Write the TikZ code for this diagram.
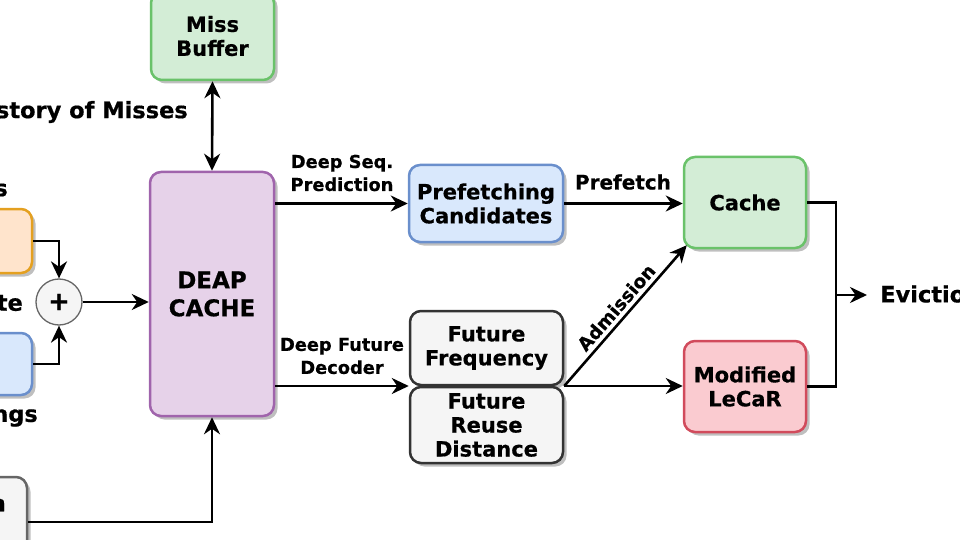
\documentclass[tikz,border=0pt]{standalone}
\usepackage{fontspec}
\setmainfont{DejaVu Sans}[BoldFeatures={FakeBold=0.6}]
\usetikzlibrary{arrows.meta,shadows,calc}
\definecolor{gfill}{HTML}{D3EDD6}\definecolor{gline}{HTML}{6AC26A}
\definecolor{pfill}{HTML}{E6D2E9}\definecolor{pline}{HTML}{A064AC}
\definecolor{bfill}{HTML}{D9E8FC}\definecolor{bline}{HTML}{6A8FCC}
\definecolor{rfill}{HTML}{FACBD0}\definecolor{rline}{HTML}{D14B5C}
\definecolor{ofill}{HTML}{FFE4CC}\definecolor{oline}{HTML}{E4A020}
\definecolor{kfill}{HTML}{F5F5F5}\definecolor{kline}{HTML}{666666}
\definecolor{dline}{HTML}{333333}
\begin{document}
\begin{tikzpicture}[x=1pt,y=-1pt,
  box/.style={draw, line width=2.5pt, rounded corners=11pt, align=center,
    font=\fontsize{21}{24}\selectfont\bfseries, inner sep=0pt,
    drop shadow={shadow xshift=3.5pt, shadow yshift=-3.5pt, fill=black!50, opacity=0.5}},
  greenbox/.style={box, fill=gfill, draw=gline},
  purplebox/.style={box, fill=pfill, draw=pline},
  bluebox/.style={box, fill=bfill, draw=bline},
  redbox/.style={box, fill=rfill, draw=rline},
  orangebox/.style={box, fill=ofill, draw=oline},
  greybox/.style={box, fill=kfill, draw=kline},
  darkbox/.style={box, fill=kfill, draw=dline},
  lbl/.style={align=center, inner sep=0pt, font=\fontsize{17.8}{23}\selectfont\bfseries},
  big/.style={inner sep=0pt, font=\fontsize{22.5}{26}\selectfont\bfseries},
  arr/.style={line width=2.6pt, -{Stealth[length=17pt,width=16pt,inset=5.5pt]}},
  dbl/.style={line width=2.6pt, {Stealth[length=17pt,width=16pt,inset=5.5pt]}-{Stealth[length=17pt,width=16pt,inset=5.5pt]}},
  ln/.style={line width=2.6pt}]
\useasboundingbox (0,0) rectangle (960,540);
\clip (0,0) rectangle (960,540);

% boxes
\node[greenbox, minimum width=123pt, minimum height=88pt] (mb) at (212.5,36) {Miss\\Buffer};
\node[purplebox, minimum width=124pt, minimum height=244pt, font=\fontsize{23}{28}\selectfont\bfseries] (deap) at (212,294) {DEAP\\CACHE};
\node[orangebox, minimum width=52pt, minimum height=64pt] (ob) at (6,241) {};
\node[bluebox, minimum width=52pt, minimum height=62pt] (lb) at (6,364) {};
\node[greybox, minimum width=47pt, minimum height=83pt] (gb) at (3.5,518.5) {};
\node[circle, draw=kline, fill=kfill, line width=1.3pt, minimum size=46pt, inner sep=0pt,
  font=\fontsize{26}{26}\selectfont\bfseries] (plus) at (59,302) {+};
\node[bluebox, minimum width=154pt, minimum height=77pt] (pref) at (486,203.5) {Prefetching\\Candidates};
\node[greenbox, minimum width=122pt, minimum height=91pt] (cache) at (745,202.5) {Cache};
\node[darkbox, minimum width=153pt, minimum height=74pt] (ff) at (486.5,348) {Future\\Frequency};
\node[darkbox, minimum width=153pt, minimum height=76pt] (fr) at (486.5,425) {Future\\Reuse\\Distance};
\node[redbox, minimum width=122pt, minimum height=91pt] (lecar) at (745,386.5) {Modified\\LeCaR};

% cut-off texts
\node[big, anchor=east] (hist) at (188,112) {story of Misses};
\node[big, anchor=east] (t1) at (8,190) {s};
\node[big, anchor=east] (t2) at (23,303) {te};
\node[big, anchor=east] (t3) at (38,418) {ngs};
\node[big, anchor=east] (t4) at (6,505) {n};
\node[big, anchor=west] (evt) at (880,294) {Evictio};

% labels
\node[lbl] (l1) at (342,173) {Deep Seq.\\Prediction};
\node[lbl] (l2) at (342,356) {Deep Future\\Decoder};
\node[lbl, font=\fontsize{20}{23}\selectfont\bfseries] (l3) at (623,182) {Prefetch};

% coordinates
\coordinate (j1) at ($(ff.south west)!0.5!(fr.north west)$);
\coordinate (j2) at ($(ff.south east)!0.5!(fr.north east)$);
\coordinate (evj) at (836,295);
\coordinate (evtip) at (867,295);

% connectors
\draw[dbl] (mb.south) -- (deap.north);
\draw[arr] (ob.east) -| (plus.north);
\draw[arr] (lb.east) -| (plus.south);
\draw[arr] (plus.east) -- (plus.east -| deap.west);
\draw[arr] ([yshift=-3.5pt]gb.east) -| (deap.south);
\draw[arr] (deap.east |- pref.west) -- (pref.west);
\draw[arr] (pref.east) -- (pref.east -| cache.west);
\draw[arr] (deap.east |- j1) -- (j1);
\draw[arr] (j2) -- (j2 -| lecar.west);
\draw[arr] (j2) -- node[sloped, above=4pt, pos=0.5, lbl, font=\fontsize{18.5}{22}\selectfont\bfseries] (adm) {Admission} ($(cache.south west)+(4,-4)$);
\draw[ln] (cache.east) -- (cache.east -| evj) -- (lecar.east -| evj) -- (lecar.east);
\draw[arr] (evj) -- (evtip);
\end{tikzpicture}
\end{document}
